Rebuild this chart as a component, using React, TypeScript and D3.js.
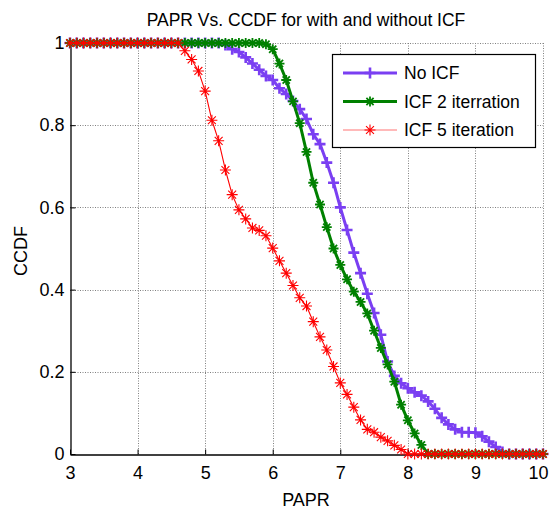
import React, {useEffect, useRef} from 'react'
import * as d3 from 'd3'

// PAPR grid (dB)
const papr = [
  3.0, 3.1, 3.2, 3.3, 3.4, 3.5, 3.6, 3.7, 3.8, 3.9,
  4.0, 4.1, 4.2, 4.3, 4.4, 4.5, 4.6, 4.7, 4.8, 4.9,
  5.0, 5.1, 5.2, 5.3, 5.4, 5.5, 5.6, 5.7, 5.8, 5.9,
  6.0, 6.1, 6.2, 6.3, 6.4, 6.5, 6.6, 6.7, 6.8, 6.9,
  7.0, 7.1, 7.2, 7.3, 7.4, 7.5, 7.6, 7.7, 7.8, 7.9,
  8.0, 8.1, 8.2, 8.3, 8.4, 8.5, 8.6, 8.7, 8.8, 8.9,
  9.0, 9.1, 9.2, 9.3, 9.4, 9.5, 9.6, 9.7, 9.8, 9.9,
  10.0
]

const noIcf = [
  1, 1, 1, 1, 1, 1, 1, 1, 1, 1,
  1, 1, 1, 1, 1, 1, 1, 1, 1, 1,
  1, 1, 1, 0.995, 0.985, 0.978, 0.965, 0.95, 0.935, 0.92,
  0.91, 0.89, 0.876, 0.859, 0.839, 0.815, 0.778, 0.754, 0.709, 0.66,
  0.6, 0.545, 0.49, 0.44, 0.39, 0.343, 0.29, 0.225, 0.19, 0.172,
  0.16, 0.15, 0.142, 0.128, 0.11, 0.088, 0.072, 0.06, 0.053, 0.053,
  0.052, 0.043, 0.03, 0.017, 0.005, 0, 0, 0, 0, 0,
  0
]

const icf2 = [
  1, 1, 1, 1, 1, 1, 1, 1, 1, 1,
  1, 1, 1, 1, 1, 1, 1, 1, 1, 1,
  1, 1, 1, 1, 1, 1, 1, 1, 1, 0.997,
  0.985, 0.95, 0.91, 0.858, 0.805, 0.735, 0.66, 0.607, 0.552, 0.5,
  0.46, 0.425, 0.395, 0.37, 0.342, 0.3, 0.258, 0.218, 0.176, 0.12,
  0.082, 0.05, 0.022, 0, 0, 0, 0, 0, 0, 0,
  0, 0, 0, 0, 0, 0, 0, 0, 0, 0,
  0
]

const icf5 = [
  1, 1, 1, 1, 1, 1, 1, 1, 1, 1,
  1, 1, 1, 1, 1, 1, 1, 0.981, 0.96, 0.932,
  0.883, 0.812, 0.762, 0.691, 0.631, 0.594, 0.572, 0.55, 0.544, 0.531,
  0.501, 0.47, 0.44, 0.41, 0.38, 0.36, 0.322, 0.285, 0.253, 0.213,
  0.173, 0.145, 0.114, 0.083, 0.06, 0.053, 0.041, 0.032, 0.021, 0.011,
  0, 0, 0, 0, 0, 0, 0, 0, 0, 0,
  0, 0, 0, 0, 0, 0, 0, 0, 0, 0,
  0
]

const xTicks = [3, 4, 5, 6, 7, 8, 9, 10]
const yTicks = [0, 0.2, 0.4, 0.6, 0.8, 1]
const seriesNames = ['No ICF', 'ICF 2 iterration', 'ICF 5 iteration']

const FONT = '"Liberation Sans", Arial, sans-serif'

function markerPath (type, s) {
  const plus = `M${-s},0H${s}M0,${-s}V${s}`
  if (type === 'plus') return plus
  const d = s * 0.72
  return plus + `M${-d},${-d}L${d},${d}M${-d},${d}L${d},${-d}`
}

function App () {
  const chartRef = useRef(null)

  useEffect(() => {
    const width = 552, height = 509
    const margin = {top: 43, right: 9, bottom: 54, left: 70}

    const svg = d3.select(chartRef.current)
    svg.selectAll('*').remove()
    svg.attr('width', width).attr('height', height)

    const x = d3.scaleLinear().domain([3, 10]).range([margin.left, width - margin.right])
    const y = d3.scaleLinear().domain([0, 1]).range([height - margin.bottom - 1, margin.top])

    svg.append('rect').attr('width', width).attr('height', height).attr('fill', '#fff')

    // grid
    const grid = svg.append('g').attr('stroke', '#808080').attr('stroke-width', 1)
      .attr('stroke-dasharray', '1,1.5')
    grid.selectAll('.vg').data(xTicks.slice(1)).join('line')
      .attr('x1', d => Math.round(x(d)) + 0.5).attr('x2', d => Math.round(x(d)) + 0.5)
      .attr('y1', y(0)).attr('y2', y(1))
    grid.selectAll('.hg').data(yTicks.slice(1)).join('line')
      .attr('y1', d => Math.round(y(d)) + 0.5).attr('y2', d => Math.round(y(d)) + 0.5)
      .attr('x1', x(3)).attr('x2', x(10))

    // axes
    const xAxis = svg.append('g')
      .attr('transform', `translate(0,${Math.round(y(0)) + 0.5})`)
      .call(d3.axisBottom(x).tickValues(xTicks).tickFormat(d3.format('d')).tickSizeInner(-5).tickSizeOuter(0).tickPadding(12))
    const yAxis = svg.append('g')
      .attr('transform', `translate(${Math.round(x(3)) + 0.5},0)`)
      .call(d3.axisLeft(y).tickValues(yTicks).tickFormat(d => d === 0 || d === 1 ? String(d) : d3.format('.1f')(d)).tickSizeInner(-5).tickSizeOuter(0).tickPadding(6))
    ;[xAxis, yAxis].forEach(a => {
      a.attr('font-family', FONT).attr('font-size', 18)
      a.select('.domain').attr('stroke', '#000').attr('stroke-width', 1.3)
      a.selectAll('.tick line').attr('stroke', '#000')
      a.selectAll('.tick text').attr('fill', '#000')
    })
    // last label sits against the right edge
    xAxis.selectAll('.tick text').filter(d => d === 10).attr('dx', -5)

    const series = [
      {name: seriesNames[0], values: noIcf, color: '#7a3ff2', width: 3, marker: 'plus', size: 5.5, mw: 2.6},
      {name: seriesNames[1], values: icf2, color: '#008000', width: 3, marker: 'star', size: 5, mw: 1.8},
      {name: seriesNames[2], values: icf5, color: '#ff0000', width: 1.1, marker: 'star', size: 5.5, mw: 1.1}
    ]

    const line = d3.line().x(d => x(d[0])).y(d => y(d[1]))

    series.forEach(s => {
      const pts = papr.map((p, i) => [p, s.values[i]])
      const g = svg.append('g')
      g.append('path').datum(pts).attr('d', line)
        .attr('fill', 'none').attr('stroke', s.color).attr('stroke-width', s.width)
        .attr('stroke-linejoin', 'round')
      g.selectAll('path.m').data(pts).join('path')
        .attr('class', 'm')
        .attr('transform', d => `translate(${x(d[0])},${y(d[1])})`)
        .attr('d', markerPath(s.marker, s.size))
        .attr('fill', 'none').attr('stroke', s.color).attr('stroke-width', s.mw)
    })

    // legend
    const lg = svg.append('g').attr('font-family', FONT).attr('font-size', 17.5)
    lg.append('rect').attr('x', 332.5).attr('y', 54.5).attr('width', 203).attr('height', 93)
      .attr('fill', '#fff').attr('stroke', '#000').attr('stroke-width', 1.2)
    series.forEach((s, i) => {
      const ly = 73 + i * 28.5
      lg.append('line').attr('x1', 343).attr('x2', 397).attr('y1', ly).attr('y2', ly)
        .attr('stroke', s.color).attr('stroke-width', s.width)
        .attr('stroke-opacity', i === 2 ? 0.55 : 1)
      lg.append('path').attr('transform', `translate(370,${ly})`)
        .attr('d', markerPath(s.marker, s.size))
        .attr('fill', 'none').attr('stroke', s.color).attr('stroke-width', s.mw)
      lg.append('text').attr('x', 404).attr('y', ly).attr('dy', '0.35em').text(s.name)
    })

    // titles
    svg.append('text').attr('x', 306).attr('y', 26).attr('text-anchor', 'middle')
      .attr('font-family', FONT).attr('font-size', 17.5).text('PAPR Vs. CCDF for with and without ICF')
    svg.append('text').attr('x', 306).attr('y', 506).attr('text-anchor', 'middle')
      .attr('font-family', FONT).attr('font-size', 18).text('PAPR')
    svg.append('text').attr('transform', 'translate(27,251) rotate(-90)').attr('text-anchor', 'middle')
      .attr('font-family', FONT).attr('font-size', 18).text('CCDF')
  }, [])

  return (
    <div style={{position: 'absolute', left: 0, top: 0}}>
      <svg ref={chartRef} style={{display: 'block'}}></svg>
    </div>
  )
}

export default App
